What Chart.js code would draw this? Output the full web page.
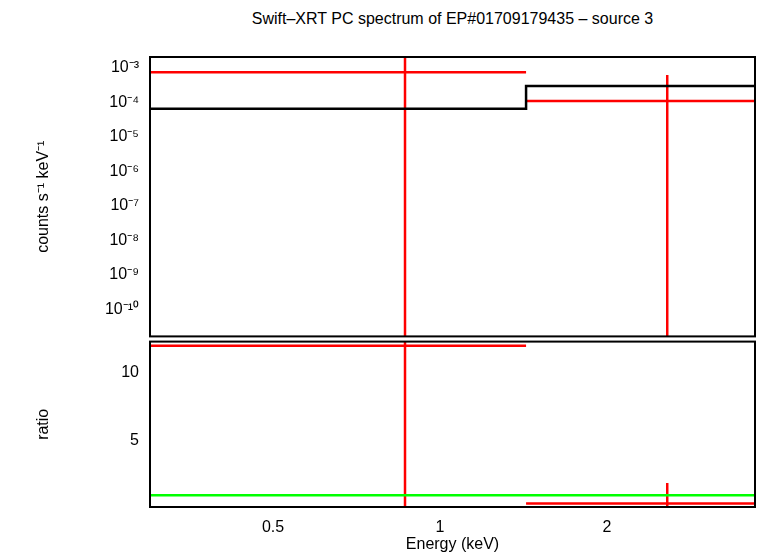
<!DOCTYPE html>
<html>
<head>
<script src="https://cdn.jsdelivr.net/npm/chart.js@4"></script>
<style>
body{margin:0;background:#fff;width:758px;height:558px;position:relative;overflow:hidden;font-family:"Liberation Sans",Arial,sans-serif}
#title{position:absolute;top:10px;left:150px;width:605px;text-align:center;font-size:16px}
.box{position:absolute;left:0;width:758px}
</style>
</head>
<body>
<div id="title">Swift&#8211;XRT PC spectrum of EP#01709179435 &#8211; source 3</div>
<div class="box" style="top:0;height:349px"><canvas id="top"></canvas></div>
<div class="box" style="top:329px;height:229px"><canvas id="bot"></canvas></div>
<script>
// energy range and bins (keV)
const xRange = [0.3, 3.7];
const binEdges = [0.3, 1.43, 3.7];
const binCentres = [0.865, 2.57];

// spectrum (counts s^-1 keV^-1)
const modelVals = [6.6e-5, 3.0e-4];
const dataVals = [7.6e-4, 1.1e-4];
const dataLow = [1e-14, 1e-14];
const dataHigh = [1e-1, 6.3e-4];

// ratio panel
const ratioVals = [12.0, 0.4];
const ratioLow = [-5, -5];
const ratioHigh = [30, 1.9];

const xTicks = [0.5, 1, 2];
const yTicksTop = [-10, -9, -8, -7, -6, -5, -4, -3];
const yTicksBot = [5, 10];

const sup = {"-":"⁻","0":"⁰","1":"¹","2":"²","3":"³","4":"⁴","5":"⁵","6":"⁶","7":"⁷","8":"⁸","9":"⁹"};
function powLabel(e){ return "10" + String(e).split("").map(c=>sup[c]).join(""); }

function steps(vals){
let pts=[];
vals.forEach((v,i)=>{ pts.push({x:binEdges[i],y:v}); pts.push({x:binEdges[i+1],y:v}); });
return pts;
}
function hbars(vals){
let pts=[];
vals.forEach((v,i)=>{ pts.push({x:binEdges[i],y:v}); pts.push({x:binEdges[i+1],y:v}); pts.push({x:binEdges[i+1],y:null}); });
return pts;
}
function vbars(lo,hi){
let pts=[];
binCentres.forEach((c,i)=>{ pts.push({x:c,y:lo[i]}); pts.push({x:c,y:hi[i]}); pts.push({x:c,y:null}); });
return pts;
}

// frame around the plot area
const frame = {
id:"frame",
afterDraw(chart){
const a=chart.chartArea, ctx=chart.ctx;
ctx.save();
ctx.strokeStyle="#000";
ctx.lineWidth=2;
ctx.strokeRect(a.left,a.top,a.right-a.left,a.bottom-a.top);
ctx.restore();
}
};

const font = {family:"Liberation Sans", size:16};
function line(data,color){
return {data:data,borderColor:color,borderWidth:2.5,pointRadius:0,spanGaps:false,tension:0};
}

new Chart(document.getElementById("top"),{
type:"line",
data:{datasets:[
line(steps(modelVals),"#000"),
line(hbars(dataVals),"#f00"),
line(vbars(dataLow,dataHigh),"#f00")
]},
plugins:[frame],
options:{
responsive:true,maintainAspectRatio:false,animation:false,
layout:{padding:{top:57,bottom:6,right:3,left:30}},
plugins:{legend:{display:false},tooltip:{enabled:false}},
scales:{
x:{type:"logarithmic",min:xRange[0],max:xRange[1],
afterBuildTicks:s=>{s.ticks=xTicks.map(v=>({value:v}));},
afterFit:s=>{s.height=0;},
ticks:{display:false},grid:{display:false},border:{display:false}},
y:{type:"logarithmic",min:Math.pow(10,-10.78),max:Math.pow(10,-2.68),
afterBuildTicks:s=>{s.ticks=yTicksTop.map(e=>({value:Math.pow(10,e)}));},
afterFit:s=>{s.width=120;},
ticks:{color:"#000",font:font,autoSkip:false,callback:(v)=>powLabel(Math.round(Math.log10(v)))},
title:{display:true,text:"counts s⁻¹ keV⁻¹",color:"#000",font:font},
grid:{display:false},border:{display:false}}
}
}
});

new Chart(document.getElementById("bot"),{
type:"line",
data:{datasets:[
line([{x:xRange[0],y:1},{x:xRange[1],y:1}],"#0f0"),
line(hbars(ratioVals),"#f00"),
line(vbars(ratioLow,ratioHigh),"#f00")
]},
plugins:[frame],
options:{
responsive:true,maintainAspectRatio:false,animation:false,
layout:{padding:{top:6,bottom:0,right:3,left:30}},
plugins:{legend:{display:false},tooltip:{enabled:false}},
scales:{
x:{type:"logarithmic",min:xRange[0],max:xRange[1],
afterBuildTicks:s=>{s.ticks=xTicks.map(v=>({value:v}));},
afterFit:s=>{s.height=51;},
ticks:{color:"#000",font:font,autoSkip:false,maxRotation:0,callback:v=>String(v)},
title:{display:true,text:"Energy (keV)",color:"#000",font:font,padding:{top:0}},
grid:{display:false},border:{display:false}},
y:{min:0.145,max:12.3,
afterBuildTicks:s=>{s.ticks=yTicksBot.map(v=>({value:v}));},
afterFit:s=>{s.width=120;},
ticks:{color:"#000",font:font},
title:{display:true,text:"ratio",color:"#000",font:font},
grid:{display:false},border:{display:false}}
}
}
});
</script>
</body>
</html>
